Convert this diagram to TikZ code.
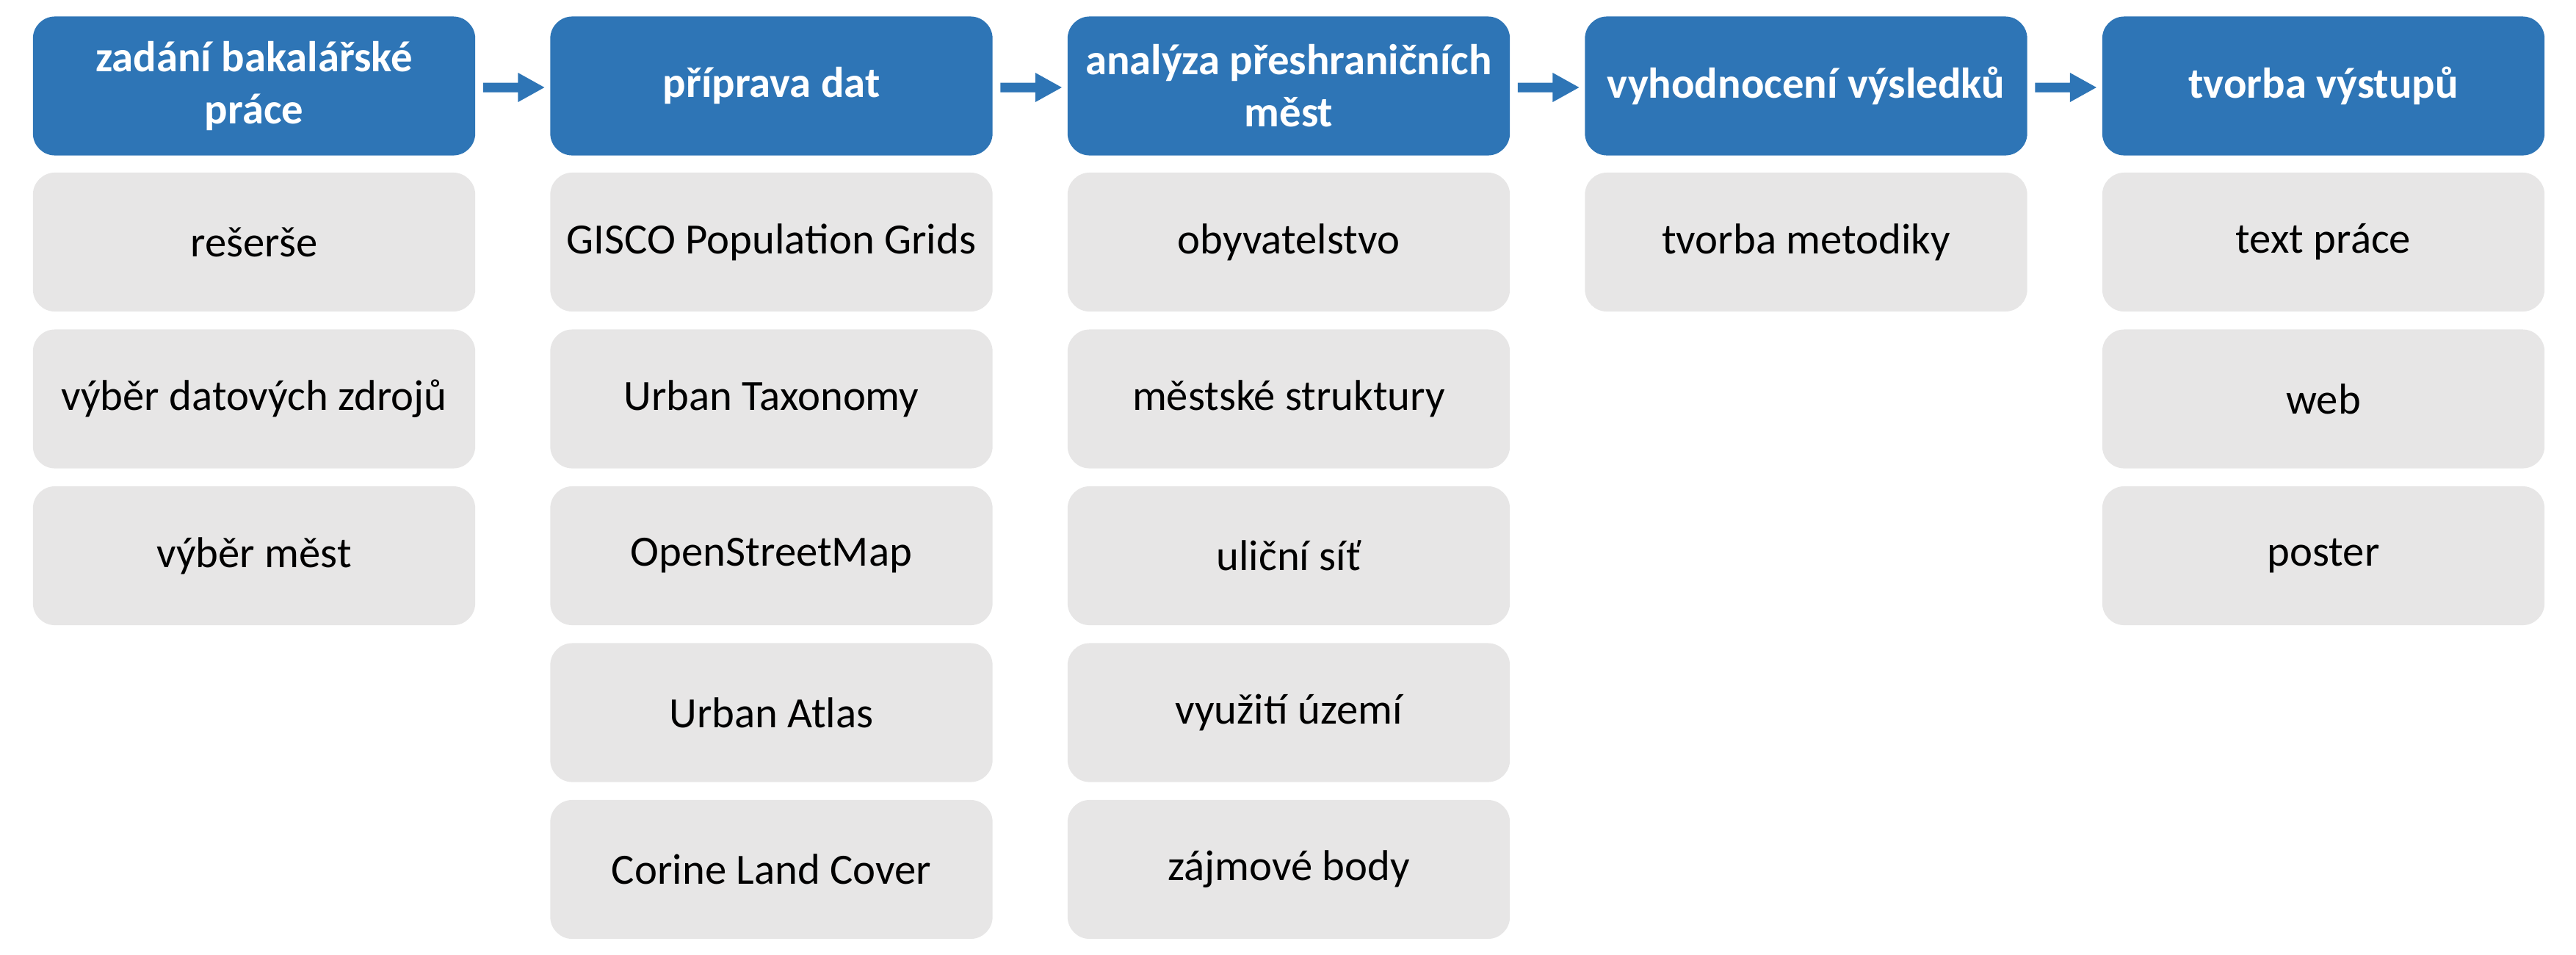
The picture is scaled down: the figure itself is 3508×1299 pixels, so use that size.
\documentclass[tikz,border=0pt]{standalone}
\usepackage{fontspec}
\setmainfont{Carlito}
\definecolor{hblue}{HTML}{2E75B6}
\definecolor{lgray}{HTML}{E7E6E6}
\begin{document}
\begin{tikzpicture}[x=0.01cm,y=-0.01cm,
  box/.style={rectangle,rounded corners=0.3cm,minimum width=6.02cm,minimum height=1.89cm,inner sep=0pt,align=center,font=\fontsize{16.7}{20.2}\selectfont},
  head/.style={box,fill=hblue,text=white,font=\fontsize{16.7}{20.2}\selectfont\bfseries},
  item/.style={box,fill=lgray,text=black},
  flow/.style={fill=hblue,draw=none}
]
\useasboundingbox (0,0) rectangle (3508,1299);
% headers
\node[head] (h1) at (346,117) {zadání bakalářské\\práce};
\node[head] (h2) at (1050.5,117) {příprava dat};
\node[head] (h3) at (1755,117) {analýza přeshraničních\\měst};
\node[head] (h4) at (2459.5,117) {vyhodnocení výsledků};
\node[head] (h5) at (3164,117) {tvorba výstupů};
% column 1
\node[item] (a1) at (346,329.5) {rešerše};
\node[item] (a2) at (346,543) {výběr datových zdrojů};
\node[item] (a3) at (346,756.5) {výběr měst};
% column 2
\node[item] (b1) at (1050.5,329.5) {GISCO Population Grids};
\node[item] (b2) at (1050.5,543) {Urban Taxonomy};
\node[item] (b3) at (1050.5,756.5) {OpenStreetMap};
\node[item] (b4) at (1050.5,970) {Urban Atlas};
\node[item] (b5) at (1050.5,1183.5) {Corine Land Cover};
% column 3
\node[item] (c1) at (1755,329.5) {obyvatelstvo};
\node[item] (c2) at (1755,543) {městské struktury};
\node[item] (c3) at (1755,756.5) {uliční síť};
\node[item] (c4) at (1755,970) {využití území};
\node[item] (c5) at (1755,1183.5) {zájmové body};
% column 4
\node[item] (d1) at (2459.5,329.5) {tvorba metodiky};
% column 5
\node[item] (e1) at (3164,329.5) {text práce};
\node[item] (e2) at (3164,543) {web};
\node[item] (e3) at (3164,756.5) {poster};
% arrows (block arrows between headers)
\foreach \s/\t in {h1/h2,h2/h3,h3/h4,h4/h5}{
  \path (\s.east) ++(10,2.5) coordinate (p);
  \fill[flow] (p) ++(0,-7) -- ++(47.5,0) -- ++(0,-13.5) -- ++(36,20) -- ++(-36,20) -- ++(0,-13.5) -- ++(-47.5,0) -- cycle;
}
\end{tikzpicture}
\end{document}
